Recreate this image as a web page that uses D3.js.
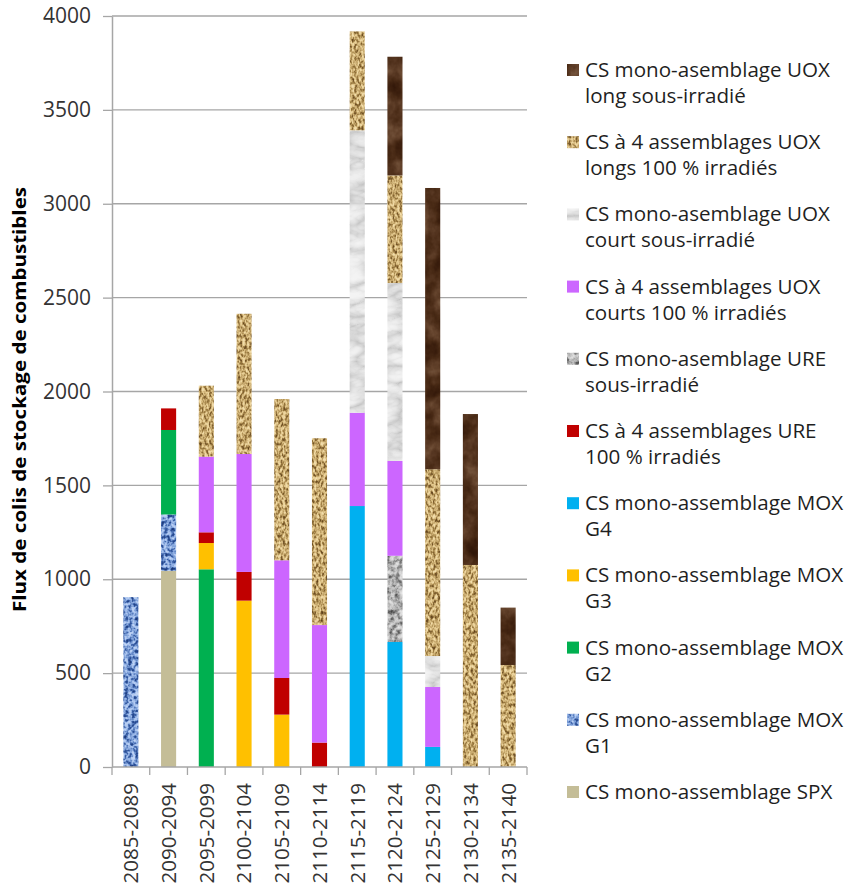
<!DOCTYPE html>
<html>
<head>
<meta charset="utf-8">
<script src="https://cdn.jsdelivr.net/npm/d3@7"></script>
<style>
  html, body { margin: 0; padding: 0; background: #ffffff; }
  svg { display: block; font-family: "Open Sans", "Noto Sans", sans-serif; }
</style>
</head>
<body>
<script>
// Periods (5-year windows)
const categories = ["2085-2089", "2090-2094", "2095-2099", "2100-2104", "2105-2109",
  "2110-2114", "2115-2119", "2120-2124", "2125-2129", "2130-2134", "2135-2140"];

// Stacked series, bottom to top
const spx          = [0, 1045, 0, 0, 0, 0, 0, 0, 0, 0, 0];
const moxG1        = [905, 300, 0, 0, 0, 0, 0, 0, 0, 0, 0];
const moxG2        = [0, 450, 1053, 0, 0, 0, 0, 0, 0, 0, 0];
const moxG3        = [0, 0, 140, 886, 279, 0, 0, 0, 0, 0, 0];
const moxG4        = [0, 0, 0, 0, 0, 0, 1390, 666, 107, 0, 0];
const ure4Irr      = [0, 115, 57, 153, 195, 130, 0, 0, 0, 0, 0];
const ureMonoSous  = [0, 0, 0, 0, 0, 0, 0, 459, 0, 0, 0];
const uoxCourts100 = [0, 0, 403, 628, 627, 626, 497, 505, 319, 0, 0];
const uoxCourtSous = [0, 0, 0, 0, 0, 0, 1504, 948, 165, 0, 0];
const uoxLongs100  = [0, 0, 378, 747, 859, 995, 527, 573, 995, 1076, 543];
const uoxLongSous  = [0, 0, 0, 0, 0, 0, 0, 632, 1498, 804, 306];

const yTicks = [0, 500, 1000, 1500, 2000, 2500, 3000, 3500, 4000];
const yTitle = "Flux de colis de stockage de combustibles";

// Series keys in stacking order, with their legend labels (two lines)
const seriesKeys = ["spx", "moxG1", "moxG2", "moxG3", "moxG4", "ure4Irr",
  "ureMonoSous", "uoxCourts100", "uoxCourtSous", "uoxLongs100", "uoxLongSous"];
const seriesLabels = [
  ["CS mono-assemblage SPX"],
  ["CS mono-assemblage MOX", "G1"],
  ["CS mono-assemblage MOX", "G2"],
  ["CS mono-assemblage MOX", "G3"],
  ["CS mono-assemblage MOX", "G4"],
  ["CS à 4 assemblages URE", "100 % irradiés"],
  ["CS mono-asemblage URE", "sous-irradié"],
  ["CS à 4 assemblages UOX", "courts 100 % irradiés"],
  ["CS mono-asemblage UOX", "court sous-irradié"],
  ["CS à 4 assemblages UOX", "longs 100 % irradiés"],
  ["CS mono-asemblage UOX", "long sous-irradié"]
];
const seriesValues = [spx, moxG1, moxG2, moxG3, moxG4, ure4Irr, ureMonoSous,
  uoxCourts100, uoxCourtSous, uoxLongs100, uoxLongSous];

// Table consumed by d3.stack
const table = categories.map((c, i) => {
  const row = { period: c };
  seriesKeys.forEach((k, j) => { row[k] = seriesValues[j][i]; });
  return row;
});

const W = 852, H = 889;
const svg = d3.select("body").append("svg").attr("width", W).attr("height", H);
const defs = svg.append("defs");

// Texture fills built from noise, clipped to the shape they are applied to
function textureFilter(id, opts) {
  const f = defs.append("filter").attr("id", id)
    .attr("x", 0).attr("y", 0).attr("width", 1).attr("height", 1)
    .attr("color-interpolation-filters", "sRGB");
  f.append("feTurbulence").attr("type", opts.type)
    .attr("baseFrequency", opts.freq).attr("numOctaves", opts.octaves)
    .attr("seed", opts.seed).attr("result", "noise");
  f.append("feColorMatrix").attr("in", "noise").attr("type", "matrix")
    .attr("values", "1 0 0 0 0  1 0 0 0 0  1 0 0 0 0  0 0 0 0 1").attr("result", "gray");
  const ct = f.append("feComponentTransfer").attr("in", "gray").attr("result", "col");
  const cols = opts.stops.map(s => d3.rgb(s));
  ct.append("feFuncR").attr("type", "table").attr("tableValues", cols.map(c => (c.r / 255).toFixed(3)).join(" "));
  ct.append("feFuncG").attr("type", "table").attr("tableValues", cols.map(c => (c.g / 255).toFixed(3)).join(" "));
  ct.append("feFuncB").attr("type", "table").attr("tableValues", cols.map(c => (c.b / 255).toFixed(3)).join(" "));
  f.append("feComposite").attr("in", "col").attr("in2", "SourceGraphic").attr("operator", "in");
  return `url(#${id})`;
}

const fills = {
  spx: { color: "#C4BD97" },
  moxG1: { color: "#8DB0E0", filter: textureFilter("tx-g1", {
    type: "fractalNoise", freq: "0.28", octaves: 2, seed: 4,
    stops: ["#1c3670", "#1c3670", "#24458a", "#3d62a8", "#7d9fd8", "#a9c3ee", "#bfd3f4", "#c8daf6", "#c8daf6"] }) },
  moxG2: { color: "#00B050" },
  moxG3: { color: "#FFC000" },
  moxG4: { color: "#00B0F0" },
  ure4Irr: { color: "#C00000" },
  ureMonoSous: { color: "#A0A0A0", filter: textureFilter("tx-ure", {
    type: "fractalNoise", freq: "0.2", octaves: 3, seed: 9,
    stops: ["#3c3c3c", "#4a4a4a", "#5e5e5e", "#8a8a8a", "#b4b4b4", "#cfcfcf", "#dedede", "#e6e6e6", "#e6e6e6"] }) },
  uoxCourts100: { color: "#CC66FF" },
  uoxCourtSous: { color: "#EDEDED", filter: textureFilter("tx-court", {
    type: "turbulence", freq: "0.03 0.06", octaves: 3, seed: 2,
    stops: ["#c4c4c4", "#d6d6d6", "#e4e4e4", "#eeeeee", "#f3f3f3", "#f5f5f5", "#f6f6f6"] }) },
  uoxLongs100: { color: "#D2B678", filter: textureFilter("tx-longs", {
    type: "fractalNoise", freq: "0.42 0.26", octaves: 2, seed: 7,
    stops: ["#5e4018", "#5e4018", "#74552a", "#9c7c42", "#c9ab70", "#e6cc92", "#f1dcaa", "#f3dfae", "#f3dfae"] }) },
  uoxLongSous: { color: "#4A2A14", filter: textureFilter("tx-long", {
    type: "fractalNoise", freq: "0.06 0.05", octaves: 4, seed: 5,
    stops: ["#2e1708", "#34190a", "#3e210f", "#4a2b16", "#573722", "#66452e", "#76573f", "#806249"] }) }
};

// Plot frame
const x0 = 112, x1 = 527, yTop = 16, yBot = 767;
const x = d3.scaleBand().domain(categories).range([x0, x1]).paddingInner(0.6).paddingOuter(0.3);
const y = d3.scaleLinear().domain([0, 4000]).range([yBot, yTop]);

const gridColor = "#A6A6A6";

// Horizontal gridlines
svg.append("g").selectAll("line").data(yTicks.filter(t => t > 0)).join("line")
  .attr("x1", x0).attr("x2", x1)
  .attr("y1", d => y(d)).attr("y2", d => y(d))
  .attr("stroke", gridColor).attr("stroke-width", 1.3);

// Y axis
const yAxis = svg.append("g").attr("transform", `translate(${x0},0)`)
  .call(d3.axisLeft(y).tickValues(yTicks).tickSize(9).tickSizeOuter(0).tickPadding(12).tickFormat(d3.format("d")));
yAxis.select(".domain").attr("stroke", gridColor).attr("stroke-width", 1.5);
yAxis.selectAll(".tick line").attr("stroke", gridColor).attr("stroke-width", 1.3);
yAxis.selectAll(".tick text").attr("font-size", 21).attr("fill", "#333333")
  .attr("font-family", "'Open Sans', sans-serif");

// Stacked bars
const stack = d3.stack().keys(seriesKeys);
const layers = stack(table);
const barG = svg.append("g");
layers.forEach(layer => {
  const f = fills[layer.key];
  barG.append("g").selectAll("rect").data(layer.filter(d => d[1] > d[0])).join("rect")
    .attr("x", d => x(d.data.period))
    .attr("width", x.bandwidth())
    .attr("y", d => y(d[1]))
    .attr("height", d => y(d[0]) - y(d[1]))
    .attr("fill", f.color)
    .attr("filter", f.filter || null);
});

// X axis line with ticks at band boundaries
const xAxisG = svg.append("g");
xAxisG.append("line").attr("x1", x0).attr("x2", x1).attr("y1", yBot).attr("y2", yBot)
  .attr("stroke", gridColor).attr("stroke-width", 1.5);
const boundaries = d3.range(categories.length + 1).map(i => x0 + i * x.step());
xAxisG.selectAll("line.tk").data(boundaries).join("line").attr("class", "tk")
  .attr("x1", d => d).attr("x2", d => d).attr("y1", yBot).attr("y2", yBot + 8)
  .attr("stroke", gridColor).attr("stroke-width", 1.3);
xAxisG.selectAll("text").data(categories).join("text")
  .attr("transform", d => `translate(${x(d) + x.bandwidth() / 2},783) rotate(-90)`)
  .attr("text-anchor", "end").attr("dy", "0.36em")
  .attr("font-size", 20.5).attr("fill", "#333333")
  .text(d => d);

// Y axis title
svg.append("text")
  .attr("transform", `translate(20,${(187 + 612) / 2}) rotate(-90)`)
  .attr("text-anchor", "middle").attr("dy", "0.35em")
  .attr("font-size", 18).attr("font-weight", "bold").attr("fill", "#000000")
  .attr("textLength", 425).attr("lengthAdjust", "spacingAndGlyphs")
  .text(yTitle);

// Legend, listed top-down in reverse stacking order
const legendOrder = d3.range(seriesKeys.length).reverse();
const legend = svg.append("g").attr("font-size", 20.6).attr("fill", "#1f1f1f");
legendOrder.forEach((si, i) => {
  const base = 77 + i * 72.2;
  const key = seriesKeys[si];
  const f = fills[key];
  legend.append("rect").attr("x", 567).attr("y", base - 13).attr("width", 12).attr("height", 12)
    .attr("fill", f.color).attr("filter", f.filter || null);
  seriesLabels[si].forEach((line, li) => {
    legend.append("text").attr("x", 585).attr("y", base + li * 26).text(line);
  });
});
</script>
</body>
</html>
